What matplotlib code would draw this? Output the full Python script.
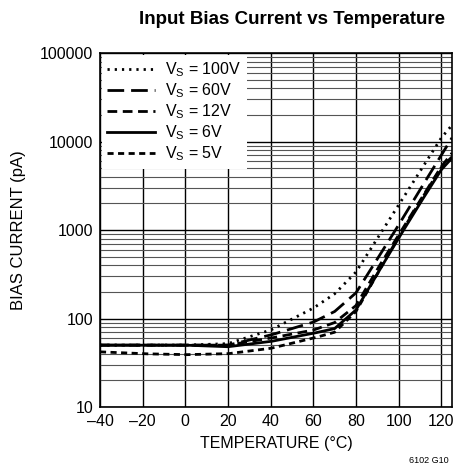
import matplotlib
matplotlib.use("Agg")
import matplotlib.pyplot as plt
import numpy as np

plt.rcParams['font.family'] = ['Liberation Sans', 'DejaVu Sans']
plt.rcParams['mathtext.default'] = 'regular'

temp = [-40, -20, 0, 20, 40, 60, 70, 80, 90, 100, 110, 120, 125]
i_100v = [50, 50, 50, 52, 74, 131, 190, 335, 800, 1900, 4600, 11000, 15300]
i_60v = [50, 50, 50, 50, 65, 91, 120, 195, 470, 1140, 2850, 7000, 11000]
i_12v = [50, 50, 50, 50, 60, 74, 90, 140, 360, 880, 2150, 5200, 7400]
i_6v = [50, 50, 50, 48, 55, 68, 77, 125, 320, 810, 2000, 4800, 6500]
i_5v = [42, 40, 39, 40, 46, 60, 70, 120, 320, 840, 2100, 5100, 6700]

labels = ['$V_S$ = 100V', '$V_S$ = 60V', '$V_S$ = 12V', '$V_S$ = 6V', '$V_S$ = 5V']
styles = [(0, (0.8, 1.8)), (0, (6, 2.5)), (0, (3.5, 2)), '-', (0, (2.2, 1.6))]
xticks = [-40, -20, 0, 20, 40, 60, 80, 100, 120]
xticklabels = ['\u201340', '\u201320', '0', '20', '40', '60', '80', '100', '120']

fig = plt.figure(figsize=(4.65, 4.72), dpi=100)
ax = fig.add_axes([0.215, 0.1377, 0.757, 0.75])

# smooth curves by interpolating in log space
tt = np.linspace(-40, 125, 400)
for ys, lab, ls in zip([i_100v, i_60v, i_12v, i_6v, i_5v], labels, styles):
    yy = 10 ** np.interp(tt, temp, np.log10(ys))
    ax.plot(tt, yy, color='black', lw=2, linestyle=ls, label=lab)

ax.set_yscale('log')
ax.set_xlim(-40, 125)
ax.set_ylim(10, 100000)
ax.set_xticks(xticks)
ax.set_xticklabels(xticklabels)
ax.set_yticks([10, 100, 1000, 10000, 100000])
ax.set_yticklabels(['10', '100', '1000', '10000', '100000'])
ax.tick_params(axis='both', which='major', length=0, labelsize=11.5, pad=5)
ax.tick_params(axis='y', which='minor', length=0)

ax.grid(True, which='major', color='black', lw=1)
ax.grid(True, which='minor', axis='y', color='#555555', lw=0.8)
ax.set_axisbelow(True)
for s in ax.spines.values():
    s.set_linewidth(1.2)

leg = ax.legend(loc='upper left', fontsize=11.5, frameon=True, fancybox=False,
                edgecolor='white', framealpha=1, borderaxespad=0.1,
                handlelength=3.0, handletextpad=0.6, labelspacing=0.15, borderpad=0.35)
leg.get_frame().set_linewidth(0)

ax.set_xlabel('TEMPERATURE (\u00b0C)', fontsize=11.5, labelpad=5)
ax.set_ylabel('BIAS CURRENT (pA)', fontsize=12, labelpad=10)
fig.text(0.628, 0.958, 'Input Bias Current vs Temperature', ha='center', va='center',
         fontsize=13.5, fontweight='bold')
fig.text(0.965, 0.025, '6102 G10', ha='right', va='center', fontsize=6.5)

fig.savefig('out.png', dpi=100)
